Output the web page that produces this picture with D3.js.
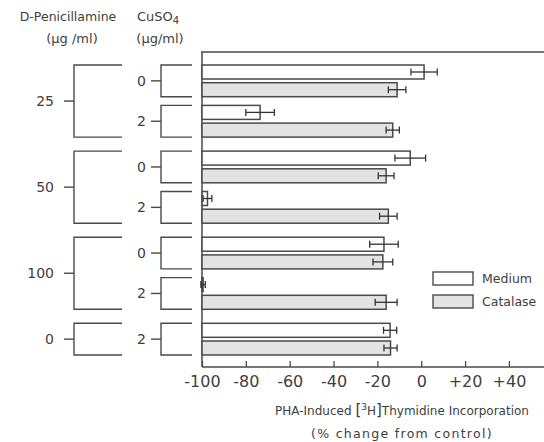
<!DOCTYPE html>
<html>
<head>
<meta charset="utf-8">
<script src="https://cdn.jsdelivr.net/npm/d3@7"></script>
<style>
    body { margin: 0; background: #fff; }
    svg text { font-family: "DejaVu Sans", sans-serif; fill: #404040; }
</style>
</head>
<body>
<div id="chart"></div>
<script>
// D-Penicillamine groups and the CuSO4 levels inside each one
const penLevels = ['25', '50', '100', '0'];
const cuLevels = [['0', '2'], ['0', '2'], ['0', '2'], ['2']];
const treatments = ['Medium', 'Catalase'];

// % change from control, one entry per CuSO4 row (top to bottom)
const mediumMeans = [1.3, -73.5, -5, -97.5, -17, -99.5, -14.2];
const mediumErr = [6, 6.5, 7, 2, 6.5, 1, 3];
const catalaseMeans = [-11, -13, -16, -15, -17.5, -16, -14];
const catalaseErr = [4, 3, 3.6, 4, 4.5, 5, 3];

const xTicks = [-100, -80, -60, -40, -20, 0, 20, 40];

const width = 544, height = 442;
const plotLeft = 202, plotTop = 52, plotBottom = 367;
const barStep = 17.7, barH = 14;
const subGap = 5 / barStep, groupGap = 10.3 / barStep;

// Build a flat list of bars; the slot value carries the extra gaps between blocks
const bars = [];
const rows = [];
let row = 0, slot = 0;
penLevels.forEach((pen, g) => {
    if (g > 0) slot += groupGap;
    cuLevels[g].forEach((cu, s) => {
        if (s > 0) slot += subGap;
        const r = { pen, cu, g, start: slot };
        treatments.forEach((t, k) => {
            bars.push({
                pen, cu, treatment: t, slot,
                value: k === 0 ? mediumMeans[row] : catalaseMeans[row],
                err: k === 0 ? mediumErr[row] : catalaseErr[row]
            });
            slot += 1;
        });
        r.end = slot;
        rows.push(r);
        row++;
    });
});

const x = d3.scaleLinear().domain([-100, 56]).range([plotLeft, width]);
const y = d3.scaleLinear().domain([0, 1]).range([65, 65 + barStep]);

const svg = d3.select('#chart').append('svg')
    .attr('width', width)
    .attr('height', height);

const ink = '#4a4a4a';

// Frame: top rule, left axis, bottom axis
svg.append('line')
    .attr('x1', plotLeft - 1).attr('x2', width)
    .attr('y1', plotTop).attr('y2', plotTop)
    .attr('stroke', ink).attr('stroke-width', 1.5);

svg.append('line')
    .attr('x1', plotLeft).attr('x2', plotLeft)
    .attr('y1', plotTop).attr('y2', plotBottom)
    .attr('stroke', ink).attr('stroke-width', 1.5);

const xAxis = d3.axisBottom(x)
    .tickValues(xTicks)
    .tickSize(-6)
    .tickPadding(9)
    .tickFormat(d => d > 0 ? '+' + d : d);

const xAxisG = svg.append('g')
    .attr('transform', `translate(0, ${plotBottom})`)
    .call(xAxis);
xAxisG.select('.domain').attr('d', `M${plotLeft},0H${width}`)
    .attr('stroke', ink).attr('stroke-width', 1.5);
xAxisG.selectAll('.tick line').attr('stroke', ink).attr('stroke-width', 1.3);
xAxisG.selectAll('.tick text')
    .attr('font-size', 16)
    .attr('font-family', '"DejaVu Sans", sans-serif')
    .attr('fill', '#404040');

// Bars
svg.selectAll('rect.bar')
    .data(bars)
    .join('rect')
    .attr('class', 'bar')
    .attr('x', x(-100))
    .attr('y', d => y(d.slot))
    .attr('width', d => x(d.value) - x(-100))
    .attr('height', barH)
    .attr('fill', d => d.treatment === 'Medium' ? '#fff' : '#e3e3e3')
    .attr('stroke', ink)
    .attr('stroke-width', 1.5);

// Error bars
const errG = svg.selectAll('g.err')
    .data(bars)
    .join('g')
    .attr('class', 'err')
    .attr('stroke', '#333')
    .attr('stroke-width', 1.3);

errG.append('line')
    .attr('x1', d => x(d.value - d.err))
    .attr('x2', d => x(d.value + d.err))
    .attr('y1', d => y(d.slot) + barH / 2)
    .attr('y2', d => y(d.slot) + barH / 2);

errG.selectAll('line.cap')
    .data(d => [d.value - d.err, d.value + d.err].map(v => ({ v, d })))
    .join('line')
    .attr('class', 'cap')
    .attr('x1', c => x(c.v)).attr('x2', c => x(c.v))
    .attr('y1', c => y(c.d.slot) + barH / 2 - 3.5)
    .attr('y2', c => y(c.d.slot) + barH / 2 + 3.5);

// CuSO4 brackets
const subX = 161, subRight = 192;
const subG = svg.selectAll('g.sub')
    .data(rows)
    .join('g')
    .attr('class', 'sub')
    .attr('fill', 'none')
    .attr('stroke', ink)
    .attr('stroke-width', 1.4);

subG.append('path')
    .attr('d', d => `M${subRight},${y(d.start)}H${subX}V${y(d.end - 1) + barH}H${subRight}`);
subG.append('path')
    .attr('d', d => `M${subX - 10},${(y(d.start) + y(d.end - 1) + barH) / 2}H${subX}`);

svg.selectAll('text.cu')
    .data(rows)
    .join('text')
    .attr('class', 'cu')
    .attr('x', subX - 15)
    .attr('y', d => (y(d.start) + y(d.end - 1) + barH) / 2)
    .attr('dy', '0.36em')
    .attr('text-anchor', 'end')
    .attr('font-size', 14)
    .text(d => d.cu);

// D-Penicillamine brackets
const groups = penLevels.map((pen, g) => {
    const rs = rows.filter(r => r.g === g);
    return { pen, start: rs[0].start, end: rs[rs.length - 1].end };
});
const penX = 74, penRight = 122;
const penG = svg.selectAll('g.pen')
    .data(groups)
    .join('g')
    .attr('class', 'pen')
    .attr('fill', 'none')
    .attr('stroke', ink)
    .attr('stroke-width', 1.4);

penG.append('path')
    .attr('d', d => `M${penRight},${y(d.start)}H${penX}V${y(d.end - 1) + barH}H${penRight}`);
penG.append('path')
    .attr('d', d => `M${penX - 10},${(y(d.start) + y(d.end - 1) + barH) / 2}H${penX}`);

svg.selectAll('text.penlab')
    .data(groups)
    .join('text')
    .attr('class', 'penlab')
    .attr('x', penX - 20)
    .attr('y', d => (y(d.start) + y(d.end - 1) + barH) / 2)
    .attr('dy', '0.36em')
    .attr('text-anchor', 'end')
    .attr('font-size', 14)
    .text(d => d.pen);

// Column headers
svg.append('text').attr('x', 68).attr('y', 21).attr('text-anchor', 'middle')
    .attr('font-size', 12.5).text('D-Penicillamine');
svg.append('text').attr('x', 72).attr('y', 43).attr('text-anchor', 'middle')
    .attr('font-size', 13).text('(\u03bcg /ml)');

const cuHead = svg.append('text').attr('x', 137).attr('y', 21).attr('font-size', 13);
cuHead.append('tspan').text('CuSO');
cuHead.append('tspan').attr('font-size', 10).attr('dy', 3).text('4');
svg.append('text').attr('x', 160).attr('y', 43).attr('text-anchor', 'middle')
    .attr('font-size', 13).text('(\u03bcg/ml)');

// Legend
const legend = svg.append('g')
    .attr('transform', 'translate(433, 272)');
legend.selectAll('rect')
    .data(treatments)
    .join('rect')
    .attr('x', 0)
    .attr('y', (d, i) => i * 23)
    .attr('width', 40)
    .attr('height', 13)
    .attr('fill', (d, i) => i === 0 ? '#fff' : '#e3e3e3')
    .attr('stroke', ink)
    .attr('stroke-width', 1.4);
legend.selectAll('text')
    .data(treatments)
    .join('text')
    .attr('x', 49)
    .attr('y', (d, i) => i * 23 + 6.5)
    .attr('dy', '0.36em')
    .attr('font-size', 12.5)
    .text(d => d);

// Axis title
const title = svg.append('text')
    .attr('x', 402).attr('y', 415)
    .attr('text-anchor', 'middle')
    .attr('font-size', 12);
title.append('tspan').text('PHA-Induced ');
title.append('tspan').attr('font-size', 15).text('[');
title.append('tspan').attr('font-size', 9).attr('dy', -5).text('3');
title.append('tspan').attr('dy', 5).text('H');
title.append('tspan').attr('font-size', 15).text(']');
title.append('tspan').text('Thymidine Incorporation');

svg.append('text')
    .attr('x', 402).attr('y', 438)
    .attr('text-anchor', 'middle')
    .attr('font-size', 12.5)
    .attr('letter-spacing', 1.3)
    .text('(% change from control)');
</script>
</body>
</html>
